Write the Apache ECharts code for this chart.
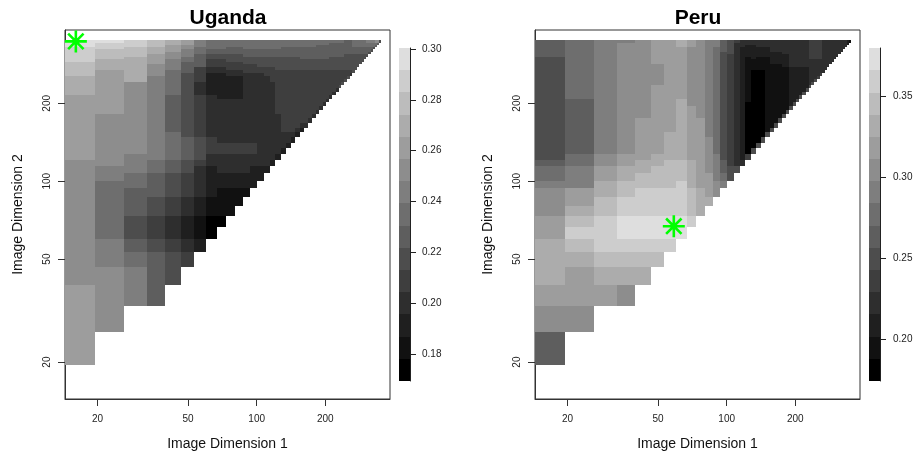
<!DOCTYPE html>
<html><head><meta charset="utf-8">
<style>html,body{margin:0;padding:0;background:#fff}#c{width:917px;height:455px}</style>
<script src="https://cdn.jsdelivr.net/npm/echarts@6/dist/echarts.min.js"></script>
</head><body><div id="c"></div>
<script>
// Image-dimension grid edges shared by both panels (first value lies left of the axis)
const dimEdges = [12.75,19.5,26.25,33,39.75,46.5,53.25,60,66.75,73.5,80.25,87,93.75,100.5,107.25,114,120.75,127.5,134.25,141,147.75,154.5,161.25,168,174.75,181.5,188.25,195,201.75,208.5,215.25,222,228.75,235.5,242.25,249,255.75,262.5,269.25,276,282.75,289.5,296.25,303,309.75,316.5,323.25,330,336.75,343.5,350.25];
const grays = ['#000000','#111111','#1f1f1f','#2e2e2e','#3e3e3e','#4d4d4d','#5e5e5e','#6e6e6e','#7e7e7e','#8d8d8d','#9d9d9d','#acacac','#bcbcbc','#cdcdcd','#dedede'];
const xTicks = [20,50,100,200];
const yTicks = [20,50,100,200];
const ugandaLevelEdges = [0.1693,0.1780,0.1868,0.1955,0.2043,0.2130,0.2218,0.2305,0.2392,0.2480,0.2567,0.2655,0.2742,0.2829,0.2917,0.3004];
const peruLevelEdges = [0.1740,0.1877,0.2014,0.2151,0.2288,0.2425,0.2562,0.2699,0.2836,0.2973,0.3110,0.3247,0.3384,0.3521,0.3658,0.3796];
const ugandaTicks = [0.18,0.20,0.22,0.24,0.26,0.28,0.30];
const peruTicks = [0.20,0.25,0.30,0.35];
const ugandaBest = [16.07,347];
const peruBest = [58.6,67];
// Each column: [first grid edge index of the run, gray level]
const ugandaColumns = [
[[0,10],[3,9],[15,10],[29,11],[35,12],[40,13],[46,14]],
[[1,9],[4,8],[6,7],[12,8],[14,9],[24,10],[37,11],[41,12],[45,13],[48,14]],
[[2,8],[4,7],[5,6],[6,5],[8,6],[11,7],[13,8],[16,9],[33,11],[42,12],[46,13]],
[[2,6],[5,5],[6,4],[8,5],[10,6],[13,7],[15,8],[35,9],[39,10],[43,11],[46,12]],
[[3,5],[5,4],[6,3],[8,4],[10,5],[13,6],[15,7],[20,6],[29,7],[37,8],[41,9],[44,10],[47,11]],
[[4,4],[5,3],[6,2],[8,3],[10,4],[13,5],[15,6],[19,5],[36,6],[40,7],[42,8],[45,9],[47,10]],
[[5,2],[6,1],[8,2],[10,3],[14,4],[15,5],[19,4],[29,3],[33,4],[38,6],[43,7],[46,8]],
[[6,0],[8,1],[10,2],[14,3],[16,4],[19,3],[29,2],[36,3],[38,4],[41,5],[43,6],[45,7]],
[[7,0],[8,1],[11,2],[13,3],[16,4],[18,3],[28,2],[36,3],[38,4],[41,5],[43,6],[45,7]],
[[8,1],[11,2],[13,3],[16,4],[18,3],[28,2],[35,3],[37,4],[40,5],[43,6],[46,7]],
[[9,1],[11,2],[13,3],[16,4],[18,3],[28,2],[35,3],[37,4],[40,5],[43,6],[46,7]],
[[10,1],[11,2],[13,3],[16,4],[18,3],[36,4],[39,5],[42,6],[45,7]],
[[11,2],[14,3],[16,4],[18,3],[36,4],[39,5],[42,6],[45,7]],
[[12,2],[14,3],[36,4],[38,5],[42,6],[45,7]],
[[13,2],[14,3],[35,4],[38,5],[42,6],[45,7]],
[[14,2],[15,3],[33,4],[38,5],[42,6],[45,7]],
[[15,2],[16,3],[24,4],[37,5],[42,6],[45,7]],
[[16,2],[17,3],[20,4],[37,5],[42,6],[46,7]],
[[17,2],[18,3],[20,4],[37,5],[42,6],[46,7]],
[[18,2],[19,3],[20,4],[37,5],[42,6],[46,7]],
[[19,2],[20,3],[21,4],[37,5],[42,6],[46,7]],
[[20,2],[21,3],[22,4],[37,5],[41,6],[46,7]],
[[21,3],[22,4],[37,5],[41,6],[46,7]],
[[22,3],[23,4],[37,5],[41,6],[46,7]],
[[23,3],[24,4],[37,5],[41,6],[46,7]],
[[24,3],[25,4],[37,5],[41,6],[47,7]],
[[25,3],[26,4],[37,5],[41,6],[47,7]],
[[26,3],[27,4],[37,5],[41,6],[47,7]],
[[27,3],[28,4],[37,5],[41,6],[47,7]],
[[28,3],[29,4],[37,5],[42,6],[48,7]],
[[29,3],[30,4],[37,5],[42,6],[48,7]],
[[30,3],[31,4],[37,5],[42,6],[48,7]],
[[31,5],[32,4],[37,5],[42,6],[48,7]],
[[32,5],[33,4],[37,5],[42,6],[48,7]],
[[33,5],[34,4],[37,5],[43,6]],
[[34,5],[35,4],[37,5],[43,6]],
[[35,3],[36,4],[37,5],[43,6]],
[[36,5],[43,6],[46,7]],
[[37,5],[43,6],[46,7]],
[[38,5],[43,6],[46,7]],
[[39,5],[43,6],[46,7]],
[[40,5],[43,6],[46,7]],
[[41,5],[43,6],[46,7]],
[[42,5],[43,6],[46,7],[48,8]],
[[43,5],[44,6],[46,7],[48,8]],
[[44,5],[45,6],[46,7],[48,8]],
[[45,5],[46,7],[48,8]],
[[46,6],[47,7],[48,9]],
[[47,6],[48,9]],
[[48,5]]
];
const peruColumns = [
[[0,6],[1,9],[2,10],[3,11],[6,10],[8,9],[11,8],[12,7],[14,6],[15,5],[42,6]],
[[1,9],[2,10],[4,11],[5,12],[6,13],[7,12],[8,11],[9,10],[11,8],[14,7],[16,6],[28,7]],
[[2,10],[3,11],[4,12],[5,13],[8,12],[10,11],[12,10],[14,9],[16,8]],
[[2,9],[3,11],[4,12],[5,13],[6,14],[8,13],[10,12],[12,11],[14,10],[16,9],[48,8]],
[[3,11],[4,12],[5,13],[6,14],[8,13],[11,12],[13,11],[15,10],[23,9]],
[[4,12],[5,13],[6,14],[8,13],[11,12],[14,11],[16,10],[32,9],[39,10]],
[[5,13],[6,14],[8,13],[11,12],[15,11],[20,10]],
[[6,14],[8,13],[12,12],[15,11],[28,10],[46,11]],
[[7,13],[8,12],[11,11],[15,10],[26,9],[46,10]],
[[8,11],[11,10],[23,9]],
[[9,11],[10,10],[13,9],[19,8]],
[[10,9],[12,8],[16,7],[46,8]],
[[11,8],[12,7],[13,6],[15,5],[44,6]],
[[12,5],[14,4],[43,5]],
[[13,5],[14,3],[48,4]],
[[14,3],[15,2],[46,3]],
[[15,4],[16,0],[27,1],[42,2],[47,3]],
[[16,5],[17,0],[37,1],[41,2],[47,3]],
[[17,5],[18,0],[37,1],[42,2],[46,3]],
[[18,5],[19,0],[37,1],[42,2],[46,3]],
[[19,5],[20,1],[42,2],[46,3]],
[[20,5],[21,1],[39,2],[44,3]],
[[21,5],[22,1],[39,2],[44,3]],
[[22,5],[23,1],[39,2],[44,3]],
[[23,5],[24,1],[38,2],[43,3]],
[[24,5],[25,1],[38,2],[43,3]],
[[25,5],[26,2],[38,3]],
[[26,5],[27,2],[38,3]],
[[27,5],[28,2],[38,3]],
[[28,5],[29,2],[38,3]],
[[29,5],[30,2],[38,3]],
[[30,5],[31,2],[38,3]],
[[31,5],[32,3],[41,4]],
[[32,5],[33,3],[41,4]],
[[33,5],[34,3],[41,4]],
[[34,4],[35,3],[41,4]],
[[35,4],[36,3],[41,4]],
[[36,3],[46,3]],
[[37,3]],
[[38,3]],
[[39,3]],
[[40,3]],
[[41,3]],
[[42,3]],
[[43,3]],
[[44,3]],
[[45,3]],
[[46,3]],
[[47,2]],
[[48,1]]
];

function cells(cols){
  const out=[];
  cols.forEach((runs,i)=>runs.forEach((r,k)=>{
    const from=r[0], to=k+1<runs.length?runs[k+1][0]:49;
    if(to>from) out.push([dimEdges[i],dimEdges[i+1],dimEdges[from+1],dimEdges[to+1],r[1]]);
  }));
  return out;
}
function bands(edges){
  return edges.slice(0,-1).map((e,i)=>[0,1,e,edges[i+1],i]);
}
function renderRect(p,api){
  const a=api.coord([api.value(0),api.value(3)]);
  const b=api.coord([api.value(1),api.value(2)]);
  const x0=Math.round(a[0]),y0=Math.round(a[1]),x1=Math.round(b[0]),y1=Math.round(b[1]);
  return {type:'rect',shape:{x:x0,y:y0,width:x1-x0,height:y1-y0},style:{fill:grays[api.value(4)]}};
}
const FONT='"Liberation Sans"';
const ink='#222';
function dimX(idx){return {gridIndex:idx,type:'log',logBase:10,min:14.4,max:385,
  name:'Image Dimension 1',nameLocation:'middle',nameGap:38,nameTextStyle:{fontFamily:FONT,fontSize:14,color:'#111'},
  splitLine:{show:false},minorTick:{show:false},
  axisLine:{show:true,onZero:false,lineStyle:{color:'#333',width:1}},
  axisTick:{show:true,length:7,customValues:xTicks,lineStyle:{color:'#333'}},
  axisLabel:{fontFamily:FONT,fontSize:10,color:ink,margin:15,customValues:xTicks,hideOverlap:false}};}
function dimY(idx){return {gridIndex:idx,type:'log',logBase:10,min:14.4,max:384,
  name:'Image Dimension 2',nameLocation:'middle',nameGap:40,nameTextStyle:{fontFamily:FONT,fontSize:14,color:'#111'},
  splitLine:{show:false},minorTick:{show:false},
  axisLine:{show:true,onZero:false,lineStyle:{color:'#333',width:1}},
  axisTick:{show:true,length:7,customValues:yTicks,lineStyle:{color:'#333'}},
  axisLabel:{fontFamily:FONT,fontSize:10,color:ink,rotate:90,margin:13,customValues:yTicks,hideOverlap:false}};}
function barX(idx){return {gridIndex:idx,type:'value',min:0,max:1,show:false};}
function barY(idx,edges,ticks,margin){return {gridIndex:idx,type:'value',position:'right',min:edges[0],max:edges[edges.length-1],
  splitLine:{show:false},
  axisLine:{show:true,onZero:false,lineStyle:{color:'#222',width:1}},
  axisTick:{show:true,length:6,customValues:ticks,lineStyle:{color:'#222'}},
  axisLabel:{fontFamily:FONT,fontSize:10,color:ink,margin,customValues:ticks,hideOverlap:false,formatter:v=>v.toFixed(2)}};}
function heat(name,idx,data){return {name,type:'custom',xAxisIndex:idx,yAxisIndex:idx,clip:true,silent:true,
  renderItem:renderRect,encode:{x:[0,1],y:[2,3]},data};}
function star(idx,p){return {type:'scatter',xAxisIndex:idx,yAxisIndex:idx,silent:true,z:5,data:[p],symbolSize:22,
  symbol:'path://M50 0L50 100M0 50L100 50M15 15L85 85M15 85L85 15',
  itemStyle:{color:'none',borderColor:'#00ff00',borderWidth:2.6,opacity:1}};}

const chart=echarts.init(document.getElementById('c'),null,{renderer:'canvas'});
chart.setOption({
  animation:false,backgroundColor:'#fff',
  title:[
    {text:'Uganda',left:223,top:3,textAlign:'center',textStyle:{fontFamily:FONT,fontSize:21,fontWeight:'bold',color:'#000'}},
    {text:'Peru',left:693,top:3,textAlign:'center',textStyle:{fontFamily:FONT,fontSize:21,fontWeight:'bold',color:'#000'}}
  ],
  grid:[
    {left:65,top:30,width:325,height:369,show:true,borderColor:'#333',borderWidth:1,backgroundColor:'#fff',outerBoundsMode:'none'},
    {left:535,top:30,width:325,height:369,show:true,borderColor:'#333',borderWidth:1,backgroundColor:'#fff',outerBoundsMode:'none'},
    {left:399,top:48,width:11,height:333,outerBoundsMode:'none'},
    {left:869,top:48,width:11,height:333,outerBoundsMode:'none'}
  ],
  xAxis:[dimX(0),dimX(1),barX(2),barX(3)],
  yAxis:[dimY(0),dimY(1),barY(2,ugandaLevelEdges,ugandaTicks,12),barY(3,peruLevelEdges,peruTicks,13)],
  series:[
    heat('Uganda',0,cells(ugandaColumns)),
    heat('Peru',1,cells(peruColumns)),
    heat('Uganda scale',2,bands(ugandaLevelEdges)),
    heat('Peru scale',3,bands(peruLevelEdges)),
    star(0,ugandaBest),star(1,peruBest)
  ]
});
</script></body></html>
